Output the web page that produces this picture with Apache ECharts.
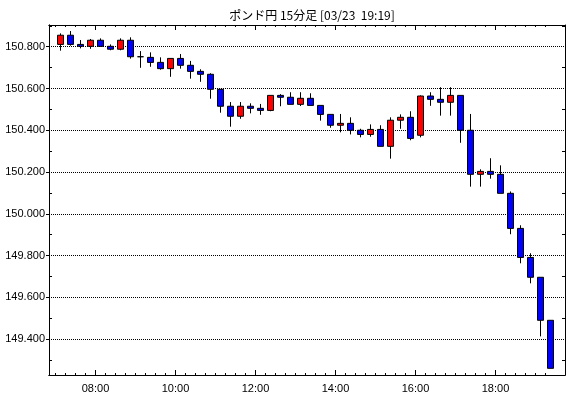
<!DOCTYPE html>
<html>
<head>
<meta charset="utf-8">
<script src="https://cdn.jsdelivr.net/npm/echarts@6/dist/echarts.min.js"></script>
<style>html,body{margin:0;padding:0;background:#fff}#c{width:570px;height:398px}</style>
</head>
<body>
<div id="c"></div>
<script>
// 15-minute bars, start times
const times = ["07:00","07:15","07:30","07:45","08:00","08:15","08:30","08:45","09:00","09:15",
  "09:30","09:45","10:00","10:15","10:30","10:45","11:00","11:15","11:30","11:45",
  "12:00","12:15","12:30","12:45","13:00","13:15","13:30","13:45","14:00","14:15",
  "14:30","14:45","15:00","15:15","15:30","15:45","16:00","16:15","16:30","16:45",
  "17:00","17:15","17:30","17:45","18:00","18:15","18:30","18:45","19:00","19:15"];
const opens = [150.811,150.855,150.811,150.802,150.831,150.802,150.788,150.831,150.752,150.749,
  150.725,150.695,150.744,150.711,150.682,150.668,150.596,150.515,150.467,150.515,
  150.505,150.495,150.567,150.558,150.524,150.553,150.519,150.476,150.424,150.433,
  150.400,150.380,150.404,150.323,150.448,150.462,150.376,150.564,150.548,150.534,
  150.567,150.400,150.189,150.203,150.189,150.098,149.930,149.791,149.696,149.490];
const closes = [150.855,150.811,150.802,150.831,150.802,150.788,150.831,150.752,150.752,150.725,
  150.695,150.744,150.711,150.682,150.668,150.596,150.515,150.467,150.515,150.505,
  150.495,150.567,150.558,150.524,150.553,150.519,150.476,150.424,150.433,150.400,
  150.380,150.404,150.323,150.448,150.462,150.361,150.564,150.548,150.534,150.567,
  150.400,150.189,150.203,150.189,150.098,149.930,149.791,149.696,149.490,149.260];
const lows = [150.781,150.805,150.792,150.790,150.800,150.783,150.783,150.743,150.699,150.704,
  150.690,150.656,150.695,150.647,150.632,150.551,150.484,150.417,150.455,150.481,
  150.474,150.491,150.515,150.524,150.516,150.519,150.446,150.412,150.390,150.380,
  150.366,150.369,150.323,150.264,150.407,150.352,150.366,150.517,150.470,150.470,
  150.340,150.130,150.130,150.168,150.098,149.902,149.763,149.667,149.413,149.260];
const highs = [150.864,150.875,150.832,150.837,150.840,150.811,150.840,150.845,150.779,150.773,
  150.749,150.744,150.765,150.732,150.692,150.673,150.596,150.535,150.535,150.529,
  150.526,150.567,150.573,150.582,150.582,150.577,150.519,150.476,150.478,150.462,
  150.407,150.428,150.424,150.462,150.476,150.491,150.567,150.582,150.606,150.606,
  150.567,150.478,150.213,150.266,150.232,150.107,149.945,149.811,149.696,149.490];
const yLabels = [149.4,149.6,149.8,150.0,150.2,150.4,150.6,150.8];
const yMinorTicks = [149.3,149.5,149.7,149.9,150.1,150.3,150.5,150.7,150.9];
const xLabels = ["08:00","10:00","12:00","14:00","16:00","18:00"];
const titleText = "ポンド円 15分足 [03/23  19:19]";

const toMin = s => { const p = s.split(":"); return (+p[0]) * 60 + (+p[1]); };
const fmt = m => String(Math.floor(m / 60)).padStart(2, "0") + ":" + String(m % 60).padStart(2, "0");
const data = times.map((t, i) => [toMin(t) + 7.5, opens[i], closes[i], lows[i], highs[i]]);
const xMajor = xLabels.map(toMin);
const xMinor = [];
for (let m = toMin(times[0]); m <= toMin(times[times.length - 1]); m += 15) if (xMajor.indexOf(m) < 0) xMinor.push(m);

const XMIN = 410.25, XMAX = 1184.25, YMIN = 149.228, YMAX = 150.904;
const axisFont = { fontFamily: "Liberation Sans", fontSize: 11, color: "#000" };
const blk = { color: "#000", width: 1 };

function xAx(pos, ticks, len, labels) {
  return {
    type: "value", position: pos, min: XMIN, max: XMAX,
    axisLine: { show: true, onZero: false, lineStyle: blk },
    axisTick: { show: true, inside: true, length: len, lineStyle: blk, customValues: ticks },
    axisLabel: labels ? Object.assign({ show: true, margin: 8, customValues: xMajor, formatter: v => fmt(Math.round(v)) }, axisFont) : { show: false },
    splitLine: { show: false }
  };
}
function yAx(pos, ticks, inside, labels) {
  return {
    type: "value", position: pos, min: YMIN, max: YMAX,
    axisLine: { show: true, onZero: false, lineStyle: blk },
    axisTick: { show: true, inside: inside, length: 3, lineStyle: blk, customValues: ticks },
    axisLabel: labels ? Object.assign({ show: true, margin: 4, customValues: yLabels, formatter: v => v.toFixed(3) }, axisFont) : { show: false },
    splitLine: { show: false }
  };
}

const chart = echarts.init(document.getElementById("c"), null, { renderer: "canvas" });
chart.setOption({
  animation: false,
  backgroundColor: "#fff",
  title: {
    text: titleText, left: 307, top: 4, textAlign: "center",
    textStyle: { fontFamily: "Noto Sans CJK JP", fontSize: 12, fontWeight: "normal", color: "#000" }
  },
  grid: { left: 49, right: 5, top: 25, bottom: 23, containLabel: false },
  xAxis: [
    xAx("bottom", xMinor, 2, true),
    xAx("bottom", xMajor, 5, false),
    xAx("top", xMinor, 2, false),
    xAx("top", xMajor, 5, false)
  ],
  yAxis: [
    yAx("left", yLabels, false, true),
    yAx("left", yMinorTicks, true, false),
    yAx("right", yMinorTicks, true, false)
  ],
  series: [{
    type: "candlestick",
    xAxisIndex: 0, yAxisIndex: 0,
    z: 3,
    barWidth: 6,
    dimensions: ["t", "open", "close", "lowest", "highest"],
    encode: { x: "t", y: ["open", "close", "lowest", "highest"] },
    data: data,
    itemStyle: { color: "#ff0000", color0: "#0000ff", borderColor: "#000", borderColor0: "#000", borderColorDoji: "#000", borderWidth: 1 },
    markLine: {
      silent: true, z: 1, symbol: ["none", "none"], animation: false,
      label: { show: false },
      lineStyle: { color: "#000", type: "dotted", width: 1 },
      emphasis: { disabled: true },
      data: yLabels.map(v => ({ yAxis: v }))
    }
  }]
});
</script>
</body>
</html>
